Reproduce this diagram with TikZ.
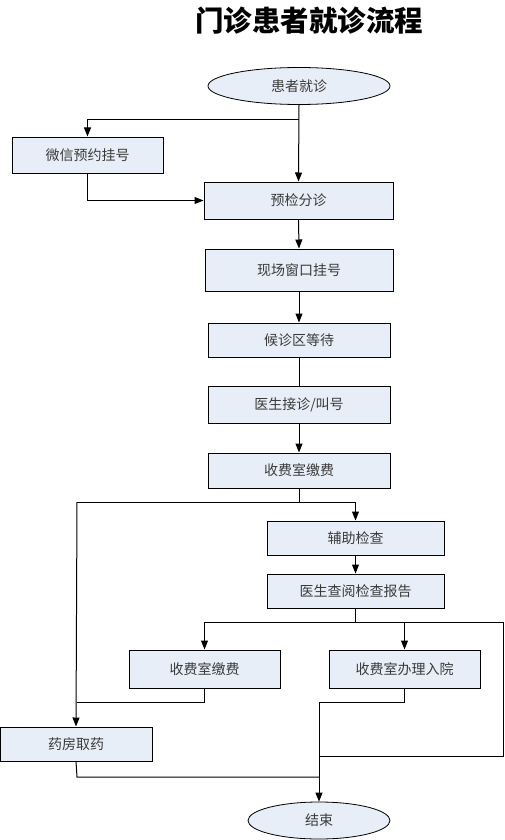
\documentclass[tikz,border=0pt]{standalone}
\usepackage{fontspec}
\newfontfamily\cjk{Noto Sans CJK SC}
\usetikzlibrary{arrows.meta,shapes.geometric}
\definecolor{boxfill}{HTML}{E8EEF7}
\definecolor{txt}{HTML}{3A3A3A}
\begin{document}
\begin{tikzpicture}[x=1pt,y=-1pt,
  stepbox/.style={draw=black,line width=1pt,fill=boxfill,inner sep=0pt,
    text=txt,font=\cjk\fontsize{14}{16}\selectfont},
  oval/.style={ellipse,draw=black,line width=0.8pt,fill=boxfill,inner sep=0pt,
    text=txt,font=\cjk\fontsize{14}{16}\selectfont},
  conn/.style={line width=1pt},
  arr/.style={conn,-{Triangle[length=9pt,width=7pt]}}]
\useasboundingbox (0,0) rectangle (504,840);
\node[font=\cjk\bfseries\fontsize{28.5}{32}\selectfont] (title) at (309,21) {门诊患者就诊流程};
\node[oval,minimum width=182pt,minimum height=37pt] (start) at (299,86) {患者就诊};
\node[stepbox,minimum width=151pt,minimum height=36pt] (wx) at (87.5,155) {微信预约挂号};
\node[stepbox,minimum width=189pt,minimum height=37pt] (yj) at (298.5,200.5) {预检分诊};
\node[stepbox,minimum width=188pt,minimum height=42pt] (xc) at (299,270) {现场窗口挂号};
\node[stepbox,minimum width=182pt,minimum height=34pt] (hz) at (299,340) {候诊区等待};
\node[stepbox,minimum width=182pt,minimum height=37pt] (ys) at (299,404.5) {医生接诊/叫号};
\node[stepbox,minimum width=182pt,minimum height=35pt] (sf) at (299,470.5) {收费室缴费};
\node[stepbox,minimum width=177pt,minimum height=34pt] (fz) at (355.5,538) {辅助检查};
\node[stepbox,minimum width=177pt,minimum height=34pt] (cy) at (355.5,591) {医生查阅检查报告};
\node[stepbox,minimum width=151pt,minimum height=38pt] (sf2) at (204.5,669) {收费室缴费};
\node[stepbox,minimum width=151pt,minimum height=38pt] (ry) at (404.5,669) {收费室办理入院};
\node[stepbox,minimum width=152pt,minimum height=34pt] (yf) at (76,744) {药房取药};
\node[oval,minimum width=142pt,minimum height=37pt] (end) at (319,820.5) {结束};
% coordinates
\coordinate (b1) at (299,120);
\coordinate (b2) at (87.5,201);
\coordinate (b3) at (299,502);
\coordinate (b4) at (77,502);
\coordinate (b5) at (355.5,622);
\coordinate (b6) at (503,622);
\coordinate (b7) at (503,756);
\coordinate (b8) at (319,756);
\coordinate (b9) at (204.5,702);
\coordinate (b10) at (77,702);
\coordinate (b11) at (404.5,702);
\coordinate (b12) at (319,702);
\coordinate (b13) at (77,777);
\coordinate (b14) at (319,777);
% connectors
\draw[arr] (start.south) -- (yj.north);
\draw[arr] (b1) -| (wx.north);
\draw[arr] (wx.south) |- (yj.west);
\draw[arr] (yj.south) -- (xc.north);
\draw[arr] (xc.south) -- (hz.north);
\draw[conn] (hz.south) -- (ys.north);
\draw[arr] (ys.south) -- (sf.north);
\draw[conn] (sf.south) -- (b3);
\draw[arr] (b4) -| (fz.north);
\draw[arr] (fz.south) -- (cy.north);
\draw[conn] (cy.south) -- (b5);
\draw[arr] (b6) -| (sf2.north);
\draw[arr] (b5 -| ry.north) -- (ry.north);
\draw[conn] (b6) -- (b7) -- (b8);
\draw[arr] (b4) -- (yf.north);
\draw[conn] (sf2.south) -- (b9) -- (b10);
\draw[conn] (ry.south) -- (b11) -- (b12);
\draw[arr] (b12) -- (end.north);
\draw[conn] (yf.south) -- (b13) -- (b14);
\end{tikzpicture}
\end{document}
